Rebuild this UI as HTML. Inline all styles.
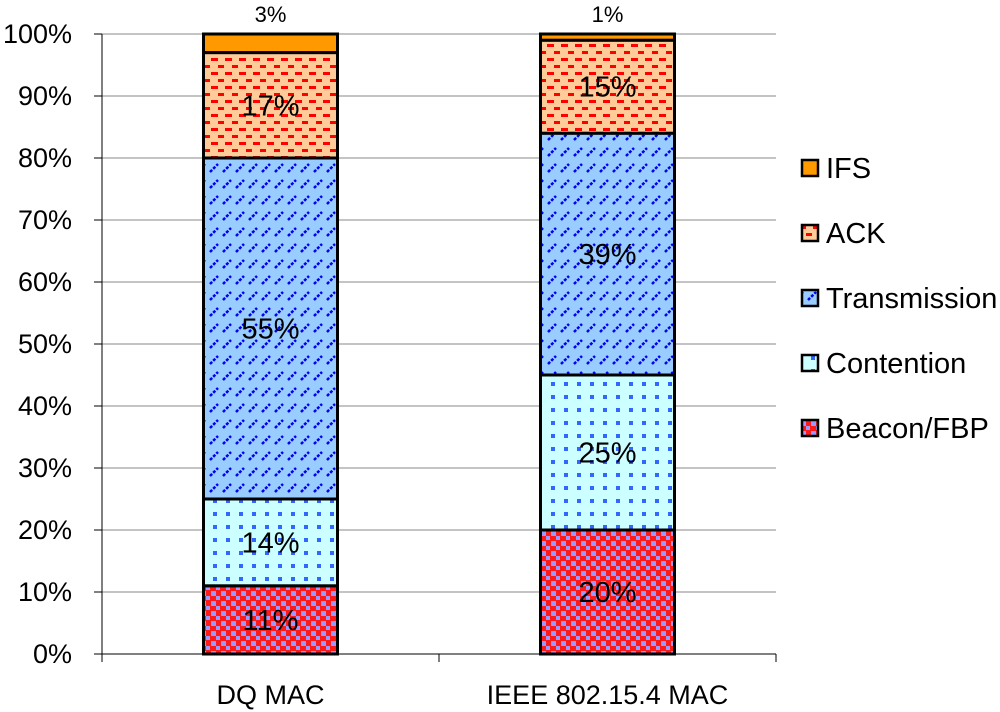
<!DOCTYPE html><html><head><meta charset="utf-8"><style>body{margin:0;background:#fff}svg{display:block;font-family:"Liberation Sans",sans-serif}</style></head><body>
<svg id="c" width="1000" height="712">
<defs>
<pattern id="p0" width="10" height="10" patternUnits="userSpaceOnUse"><rect width="10" height="10" fill="#ff1a1a"/><rect x="1" y="1" width="5" height="5" fill="#9999ff"/><rect x="6" y="6" width="4" height="4" fill="#9999ff"/></pattern>
<pattern id="p1" width="13" height="13" patternUnits="userSpaceOnUse"><rect width="13" height="13" fill="#ccffff"/><rect x="5" y="5" width="4" height="4" fill="#3366ff"/></pattern>
<pattern id="p2" width="13" height="16" patternUnits="userSpaceOnUse"><rect width="13" height="16" fill="#99ccff"/><path d="M2 12 L10 4" stroke="#0000ee" stroke-width="2.5" stroke-dasharray="3 1.5"/></pattern>
<pattern id="p3" width="14" height="14" patternUnits="userSpaceOnUse"><rect width="14" height="14" fill="#ffcc99"/><rect x="1" y="2" width="7" height="3" fill="#ff0000"/><rect x="8" y="9" width="7" height="3" fill="#ff0000"/></pattern>
<pattern id="p4" width="10" height="10" patternUnits="userSpaceOnUse"><rect width="10" height="10" fill="#ff9900"/></pattern>
</defs>
<g id="grid"></g><g id="bars"></g><g id="legend"></g>
</svg>
<script>
const categories=["DQ MAC","IEEE 802.15.4 MAC"];
const seriesNames=["Beacon/FBP","Contention","Transmission","ACK","IFS"];
const dq=[11,14,55,17,3];
const ieee=[20,25,39,15,1];
const yTicks=[0,10,20,30,40,50,60,70,80,90,100];
const values=[dq,ieee];
const NS="http://www.w3.org/2000/svg";
const X0=102,X1=776,Y0=654,Y1=34;
const y=v=>Y0-(v/100)*(Y0-Y1);
const xc=i=>X0+(i+0.5)*(X1-X0)/categories.length;
function mk(p,t,a){const e=document.createElementNS(NS,t);for(const k in a)e.setAttribute(k,a[k]);p.appendChild(e);return e;}
const g=document.getElementById('grid'),b=document.getElementById('bars'),l=document.getElementById('legend');
yTicks.forEach(t=>{
 const ln=mk(g,'line',{x1:X0,x2:X1,y1:y(t),y2:y(t),stroke:'#888','stroke-width':1});
 
 
 mk(g,'line',{x1:X0-8,x2:X0,y1:y(t),y2:y(t),stroke:'#000'});
 const tx=mk(g,'text',{x:X0-30,y:y(t)+9,'text-anchor':'end','font-size':27});tx.textContent=t+'%';
 
 
});
mk(g,'line',{x1:X0,x2:X0,y1:Y1,y2:Y0,stroke:'#000'});
mk(g,'line',{x1:X0,x2:X1,y1:Y0,y2:Y0,stroke:'#000'});
[0,1,2].forEach(i=>{const x=X0+i*(X1-X0)/2;mk(g,'line',{x1:x,x2:x,y1:Y0,y2:Y0+8,stroke:'#000'});});
const BW=134;
values.forEach((vals,i)=>{
 let cum=0;const x=xc(i)-BW/2;
 vals.forEach((v,s)=>{
  const r=mk(b,'rect',{x:x,y:y(cum+v),width:BW,height:y(cum)-y(cum+v),fill:'url(#p'+s+')',stroke:'#000','stroke-width':3});
  
  
  const ty=s===4?y(100)-12:(y(cum)+y(cum+v))/2+10;
  const t=mk(b,'text',{x:xc(i),y:ty,'text-anchor':'middle','font-size':s===4?22:29});t.textContent=v+'%';
  
  
  cum+=v;
 });
 const ct=mk(b,'text',{x:xc(i),y:Y0+50,'text-anchor':'middle','font-size':27});ct.textContent=categories[i];
 
 
});
seriesNames.forEach((n,s)=>{
 const yy=428-(s)*65;
 const r=mk(l,'rect',{x:802,y:yy-8,width:16,height:16,fill:'url(#p'+s+')',stroke:'#000','stroke-width':2.5});
 
 
 const t=mk(l,'text',{x:826,y:yy+10,'font-size':29});t.textContent=n;
 
 
});
</script>
</body></html>
